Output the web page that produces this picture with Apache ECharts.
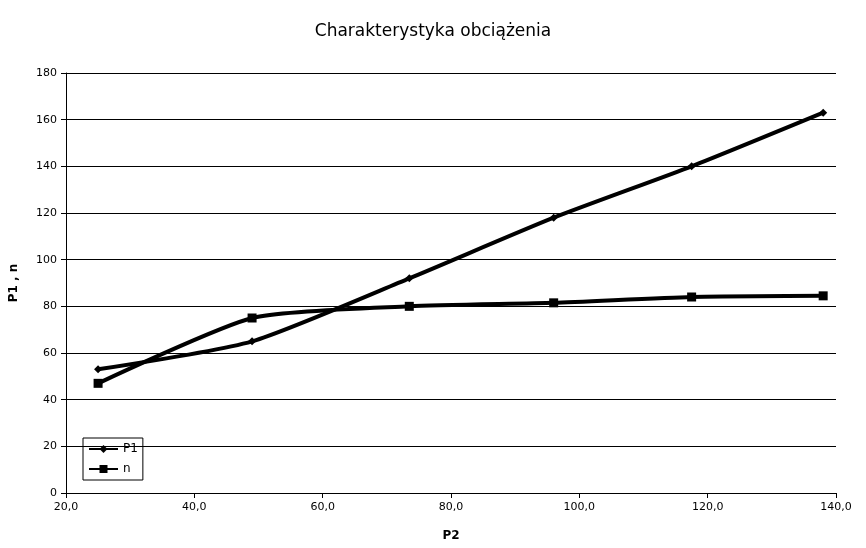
<!DOCTYPE html>
<html>
<head>
<meta charset="utf-8">
<script src="https://cdn.jsdelivr.net/npm/echarts@6/dist/echarts.min.js"></script>
<style>
html,body{margin:0;padding:0;background:#fff;}
#chart{width:866px;height:548px;}
</style>
</head>
<body>
<div id="chart"></div>
<script>
const titleText = 'Charakterystyka obciążenia';
const xName = 'P2';
const yName = 'P1 , n';
const xValues = [25, 49, 73.5, 96, 117.5, 138];
const p1Values = [53, 65, 92, 118, 140, 163];
const nValues = [47, 75, 80, 81.5, 84, 84.5];

const chart = echarts.init(document.getElementById('chart'), null, {renderer: 'canvas'});
const font = "DejaVu Sans";
const pair = (xs, ys) => xs.map((x, i) => [x, ys[i]]);

chart.setOption({
  animation: false,
  backgroundColor: '#fff',
  title: {
    text: titleText,
    left: 'center',
    top: 18,
    textStyle: {fontFamily: font, fontSize: 17, fontWeight: 'normal', color: '#000'}
  },
  grid: {left: 65, right: 30, top: 73, bottom: 55},
  legend: {
    left: 83, top: 438,
    orient: 'vertical',
    itemWidth: 29, itemHeight: 10, itemGap: 8,
    padding: [5, 5, 5, 5],
    borderColor: '#000', borderWidth: 1,
    textStyle: {fontFamily: font, fontSize: 12, color: '#000'},
    data: ['P1', 'n']
  },
  xAxis: {
    type: 'value',
    min: 20, max: 140, interval: 20,
    name: xName,
    nameLocation: 'middle',
    nameGap: 37,
    nameTextStyle: {fontFamily: font, fontSize: 12, fontWeight: 'bold', color: '#000'},
    axisLine: {lineStyle: {color: '#000', width: 1}},
    axisTick: {show: true, inside: false, length: 5, lineStyle: {color: '#000'}},
    axisLabel: {fontFamily: font, fontSize: 11, color: '#000', margin: 9,
      formatter: v => v.toFixed(1).replace('.', ',')},
    splitLine: {show: false}
  },
  yAxis: {
    type: 'value',
    min: 0, max: 180, interval: 20,
    name: yName,
    nameLocation: 'middle',
    nameGap: 46,
    nameRotate: 90,
    nameTextStyle: {fontFamily: font, fontSize: 12, fontWeight: 'bold', color: '#000'},
    axisLine: {show: true, lineStyle: {color: '#000', width: 1}},
    axisTick: {show: true, inside: false, length: 5, lineStyle: {color: '#000'}},
    axisLabel: {fontFamily: font, fontSize: 11, color: '#000', margin: 9},
    splitLine: {show: true, lineStyle: {color: '#000', width: 1}}
  },
  series: [
    {
      name: 'P1', type: 'line', smooth: 0.2,
      data: pair(xValues, p1Values),
      symbol: 'diamond', symbolSize: 8,
      lineStyle: {color: '#000', width: 4},
      itemStyle: {color: '#000'}
    },
    {
      name: 'n', type: 'line', smooth: 0.2,
      data: pair(xValues, nValues),
      symbol: 'rect', symbolSize: 9,
      lineStyle: {color: '#000', width: 4},
      itemStyle: {color: '#000'}
    }
  ]
});
</script>
</body>
</html>
